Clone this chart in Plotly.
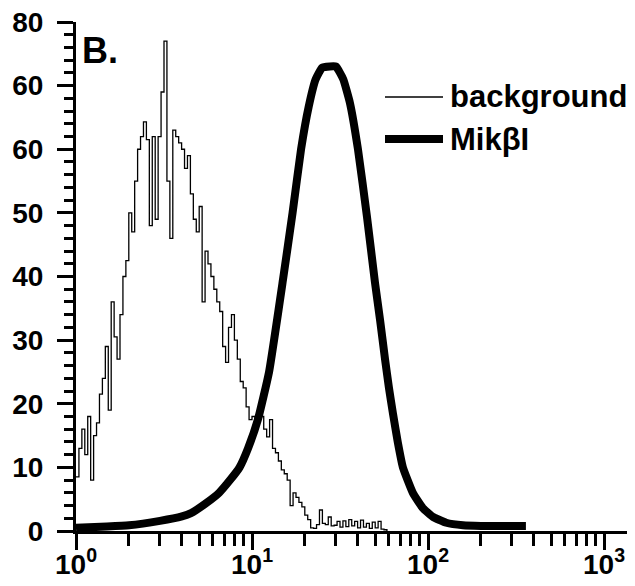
import numpy as np
import plotly.graph_objects as go

# Background histogram (counts per channel, 60 channels per decade starting at 10^0)
bins_per_decade = 60
bg_counts = [8.5, 13, 16, 12, 18, 8, 15, 17, 21.5, 24,
             29, 19, 36, 30.5, 27, 34, 40, 42.5, 50, 47,
             55, 60, 62, 64.3, 61.5, 48, 62, 49, 62, 69,
             77, 55, 46, 63, 62, 61, 60, 57, 59, 53,
             49, 47, 51, 36, 44, 42, 40, 38, 36, 34.5,
             29, 26.5, 32, 34, 30, 27, 23.5, 22.5, 19.5, 17.5,
             18, 16.5, 19, 18, 16, 14.8, 17.5, 13, 12.3, 11,
             9.6, 9, 8, 4, 6, 5.3, 4.5, 3.8, 2.5, 1.8,
             0.5, 0.4, 1, 3.3, 1.2, 1, 2.2, 0.8, 0.9, 1.5,
             0.6, 1.6, 0.7, 1.8, 0.8, 1.5, 0.5, 1.7, 0.6, 1.2,
             0.4, 1.4, 0.5, 1.5, 0.3, 0.2, 0]

# MikbI stained population (smooth curve)
mik_x = [1, 1.5, 2, 3, 4, 4.5, 5.5, 6.5, 7.5, 8.5, 9.5, 10.8, 12.5, 15, 17, 19, 21, 23,
         25, 27.7, 30, 33, 36, 40, 45, 50, 53.5, 57, 60, 63.2, 67.3, 72, 82, 93.5, 107, 127,
         158, 200, 300, 360]
mik_y = [0.5, 0.7, 0.9, 1.6, 2.3, 2.8, 4.4, 6, 8, 10, 13, 17.5, 25, 39.5, 50, 60, 66.7, 71,
         72.8, 73, 73, 71, 67.3, 60, 49.4, 39, 33, 27, 22.5, 18.5, 14, 10, 6, 3.6, 2.2, 1.3,
         0.9, 0.8, 0.8, 0.8]

y_tickvals = [0, 10, 20, 30, 40, 50, 60, 70, 80]
y_ticktext = ["0", "10", "20", "30", "40", "50", "60", "60", "80"]
x_tickvals = [1, 10, 100, 1000]
x_ticktext = ["10<sup>0</sup>", "10<sup>1</sup>", "10<sup>2</sup>", "10<sup>3</sup>"]
x_minor = [k * 10 ** d for d in range(3) for k in range(2, 10)]

legend_labels = ["background", "MikβI"]
panel_label = "B."

bg_x = [10 ** (i / bins_per_decade) for i in range(len(bg_counts))]

FONT = "Liberation Sans, Arial, sans-serif"

fig = go.Figure()
fig.add_trace(go.Scatter(x=bg_x, y=bg_counts, mode="lines", line_shape="hv",
                         line=dict(color="black", width=1.3), name=legend_labels[0],
                         showlegend=False))
fig.add_trace(go.Scatter(x=mik_x, y=mik_y, mode="lines",
                         line=dict(color="black", width=8, shape="spline", smoothing=0.4),
                         name=legend_labels[1], showlegend=False))

# page body has an 8px default margin: size the figure to fit the 635x586 window
OFF = 8
W, H = 635 - OFF, 586 - OFF
L, R, T = 76 - OFF, 0, 22 - OFF
ph = 509
B = H - T - ph
pw = W - L - R

def px(xp):  # screen pixel -> paper x
    return (xp - OFF - L) / pw

def py(yp):  # screen pixel -> paper y
    return (T + ph - (yp - OFF)) / ph

# manual legend
fig.add_shape(type="line", xref="paper", yref="paper", x0=px(385), x1=px(443),
              y0=py(97), y1=py(97), line=dict(color="black", width=1.5))
fig.add_shape(type="line", xref="paper", yref="paper", x0=px(385), x1=px(443),
              y0=py(139), y1=py(139), line=dict(color="black", width=8))
for lab, yy in zip(legend_labels, [97, 139]):
    fig.add_annotation(text=lab, xref="paper", yref="paper", x=px(448), y=py(yy),
                       xanchor="left", yanchor="middle", showarrow=False,
                       font=dict(family=FONT, size=31, color="black", weight="bold"))
fig.add_annotation(text=panel_label, xref="paper", yref="paper", x=px(80), y=py(51),
                   xanchor="left", yanchor="middle", showarrow=False,
                   font=dict(family=FONT, size=36, color="black", weight="bold"))

fig.update_xaxes(type="log", range=[0, pw / 176.0], showgrid=False, zeroline=False,
                 showline=True, linecolor="black", linewidth=3, automargin=False,
                 tickmode="array", tickvals=x_tickvals, ticktext=x_ticktext,
                 ticks="outside", ticklen=16, tickwidth=3, tickcolor="black",
                 ticklabelstandoff=-10, ticklabeloverflow="allow",
                 tickfont=dict(family=FONT, size=28, color="black", weight="bold"),
                 minor=dict(tickmode="array", tickvals=x_minor, ticks="outside",
                            ticklen=12, tickwidth=3, tickcolor="black", showgrid=False))
fig.update_yaxes(range=[0, 80], showgrid=False, zeroline=False,
                 showline=True, linecolor="black", linewidth=3, automargin=False,
                 tickmode="array", tickvals=y_tickvals, ticktext=y_ticktext,
                 ticks="outside", ticklen=16, tickwidth=3, tickcolor="black",
                 ticklabelstandoff=8, ticklabeloverflow="allow",
                 tickfont=dict(family=FONT, size=28, color="black", weight="bold"),
                 minor=dict(dtick=2, ticks="outside", ticklen=9, tickwidth=2.5,
                            tickcolor="black", showgrid=False))

fig.update_layout(width=W, height=H, margin=dict(l=L, r=R, t=T, b=B, pad=0),
                  paper_bgcolor="white", plot_bgcolor="white", showlegend=False)

fig.write_html("out.html")
